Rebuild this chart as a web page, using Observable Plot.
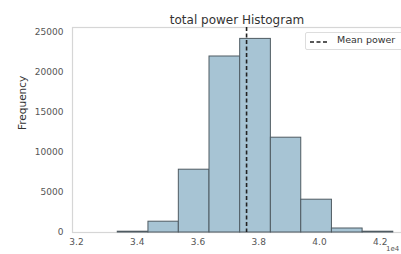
<!DOCTYPE html>
<html><head><meta charset="utf-8">
<script src="https://cdn.jsdelivr.net/npm/d3@7"></script>
<script src="https://cdn.jsdelivr.net/npm/@observablehq/plot@0.6"></script>
<style>
body{margin:0;background:#fff;font-family:"DejaVu Sans",sans-serif;}
#wrap{position:relative;width:401px;height:254px;overflow:hidden;}
#legend{position:absolute;left:305px;top:32px;width:110px;height:16px;border:1px solid #ddd;border-radius:2px;background:#fff;font-size:9.5px;color:#333;}
#legend svg{position:absolute;left:3px;top:7px;}
#legend span{position:absolute;left:31px;top:1px;}
#offset{position:absolute;left:386px;top:245px;font-size:7px;color:#555;}
</style></head>
<body><div id="wrap"></div>
<script>
const title = "total power Histogram";
const yLabel = "Frequency";
const legendLabel = "Mean power";
const binEdges = [3.336, 3.437, 3.537, 3.638, 3.739, 3.840, 3.940, 4.041, 4.142, 4.243];
const counts = [100, 1350, 7850, 22000, 24200, 11850, 4100, 500, 100];
const meanPower = 3.76;
const xTicks = [3.2, 3.4, 3.6, 3.8, 4.0, 4.2];
const yTicks = [0, 5000, 10000, 15000, 20000, 25000];

const bins = counts.map((c, i) => ({x1: binEdges[i], x2: binEdges[i + 1], y: c}));

const chart = Plot.plot({
  width: 401, height: 254,
  marginLeft: 72, marginTop: 27, marginBottom: 22, marginRight: 0,
  style: {fontFamily: "DejaVu Sans", fontSize: "9px", color: "#444", background: "#fff"},
  x: {domain: [3.187, 4.27]},
  y: {domain: [0, 25625]},
  marks: [
    Plot.frame({stroke: "#d6d6d6", strokeWidth: 1.2}),
    Plot.rectY(bins, {x1: "x1", x2: "x2", y: "y", fill: "#a7c4d4", stroke: "#4f5b62", strokeWidth: 1}),
    Plot.ruleX([meanPower], {stroke: "#222", strokeWidth: 1.6, strokeDasharray: "4,2.5"}),
    Plot.axisX({ticks: xTicks, tickFormat: d => d.toFixed(1), tickSize: 0, tickPadding: 6, label: null, fill: "#555"}),
    Plot.axisY({ticks: yTicks, tickFormat: d => String(d), tickSize: 0, tickPadding: 9, label: null, fill: "#555"}),
    Plot.text([yLabel], {frameAnchor: "left", dx: -50, rotate: -90, fontSize: 10.5, fill: "#333"}),
    Plot.text([title], {frameAnchor: "top", dy: -4, lineAnchor: "bottom", fontSize: 12, fill: "#333"})
  ]
});
const wrap = document.getElementById("wrap");
wrap.appendChild(chart);
const lg = document.createElement("div");
lg.id = "legend";
lg.innerHTML = `<svg width="22" height="4"><line x1="1" y1="2" x2="19" y2="2" stroke="#222" stroke-width="1.6" stroke-dasharray="4,2.5"/></svg><span>${legendLabel}</span>`;
wrap.appendChild(lg);
const off = document.createElement("div");
off.id = "offset"; off.textContent = "1e4";
wrap.appendChild(off);
</script></body></html>
